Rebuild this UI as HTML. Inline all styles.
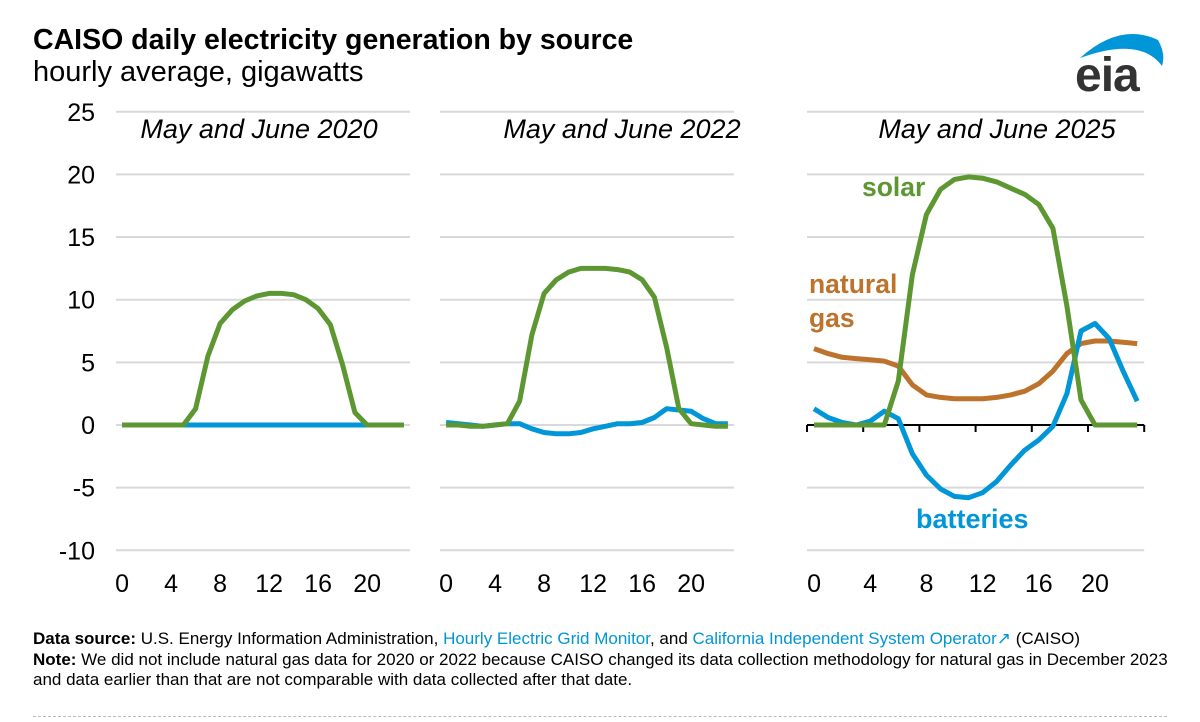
<!DOCTYPE html>
<html><head><meta charset="utf-8"><style>
body{margin:0;width:1200px;height:722px;background:#fff;font-family:"Liberation Sans",sans-serif;overflow:hidden;position:relative}
.t{position:absolute;left:33px;top:24px;font-size:28.5px;font-weight:bold;color:#000;white-space:nowrap}
.s{position:absolute;left:33px;top:56px;font-size:29px;color:#000;white-space:nowrap}
.f{position:absolute;left:33px;top:629px;font-size:17px;line-height:20.5px;color:#000;white-space:nowrap}
.f a{color:#0096d6;text-decoration:none}
.dash{position:absolute;left:33px;right:33px;top:716px;border-top:1px dashed #bbb}
</style></head><body>
<div class="t">CAISO daily electricity generation by source</div>
<div class="s">hourly average, gigawatts</div>
<svg id="c" width="1200" height="722" style="position:absolute;left:0;top:0" font-family="Liberation Sans, sans-serif"></svg>
<div class="f"><b>Data source:</b> U.S. Energy Information Administration, <a>Hourly Electric Grid Monitor</a>, and <a>California Independent System Operator&#x2197;</a> (CAISO)<br><b>Note:</b> We did not include natural gas data for 2020 or 2022 because CAISO changed its data collection methodology for natural gas in December 2023<br>and data earlier than that are not comparable with data collected after that date.</div>
<div class="dash"></div>
<script>
const svg=document.getElementById('c');let h='';
const Y=v=>425-v*12.53;
const panels=[
 {x0:116,w:12.25,title:'May and June 2020',tx:259,
  s:[0,0,0,0,0,0,1.3,5.5,8.1,9.2,9.9,10.3,10.5,10.5,10.4,10.0,9.3,8.0,4.8,1.0,0,0,0,0],
  b:new Array(24).fill(0)},
 {x0:440,w:12.25,title:'May and June 2022',tx:622,
  s:[0,0,-0.1,-0.1,0,0.1,1.9,7.2,10.5,11.6,12.2,12.5,12.5,12.5,12.4,12.2,11.6,10.2,6.2,1.3,0.1,0,-0.1,-0.1],
  b:[0.2,0.1,0,-0.1,0,0.1,0.1,-0.3,-0.6,-0.7,-0.7,-0.6,-0.3,-0.1,0.1,0.1,0.2,0.6,1.3,1.2,1.1,0.5,0.1,0.1]},
 {x0:807,w:14.05,title:'May and June 2025',tx:997,axis:1,
  s:[0,0,0,0,0,0,3.5,12,16.8,18.8,19.6,19.8,19.7,19.4,18.9,18.4,17.6,15.7,9.5,2,0,0,0,0],
  g:[6.1,5.7,5.4,5.3,5.2,5.1,4.7,3.2,2.4,2.2,2.1,2.1,2.1,2.2,2.4,2.7,3.3,4.3,5.7,6.5,6.7,6.7,6.6,6.5],
  b:[1.3,0.6,0.2,0,0.3,1.1,0.5,-2.3,-4.0,-5.1,-5.7,-5.8,-5.4,-4.5,-3.2,-2.0,-1.2,-0.1,2.5,7.5,8.1,6.9,4.3,1.9]}];
for(let v=-10;v<=25;v+=5)h+=`<text x="95" y="${Y(v)+9}" font-size="25" text-anchor="end">${v}</text>`;
panels.forEach(p=>{
 const x1=p.x0+24*p.w;
 for(let v=-10;v<=25;v+=5){if(v==0&&p.axis)continue;h+=`<line x1="${p.x0}" x2="${x1}" y1="${Y(v)}" y2="${Y(v)}" stroke="#d9d9d9" stroke-width="2"/>`;}
 if(p.axis){h+=`<line x1="${p.x0}" x2="${x1}" y1="425" y2="425" stroke="#000" stroke-width="2"/>`;
  for(let i=0;i<=6;i++)h+=`<line x1="${p.x0+i*4*p.w}" x2="${p.x0+i*4*p.w}" y1="425" y2="432" stroke="#000" stroke-width="2"/>`;}
 for(let k=0;k<=20;k+=4)h+=`<text x="${p.x0+(k+0.5)*p.w}" y="592" font-size="25" text-anchor="middle">${k}</text>`;
 h+=`<text x="${p.tx}" y="138" font-size="27" font-style="italic" text-anchor="middle">${p.title}</text>`;
 const pl=(d,c)=>{h+=`<polyline fill="none" stroke="${c}" stroke-width="5" stroke-linejoin="round" points="${d.map((v,i)=>(p.x0+(i+0.5)*p.w).toFixed(1)+','+Y(v).toFixed(1)).join(' ')}"/>`};
 if(p.g)pl(p.g,'#bd732c');
 pl(p.b,'#0096d7');pl(p.s,'#5d9732');
});
h+=`<text x="862" y="196" font-size="26.5" font-weight="bold" fill="#5d9732">solar</text>`;
h+=`<text x="809" y="293" font-size="26.5" font-weight="bold" fill="#bd732c">natural</text>`;
h+=`<text x="809" y="327" font-size="26.5" font-weight="bold" fill="#bd732c">gas</text>`;
h+=`<text x="916" y="528" font-size="27" font-weight="bold" fill="#0096d7">batteries</text>`;
h+=`<path d="M1080 58 Q1120 22 1158 40 Q1166 54 1162 66 Q1140 36 1080 58Z" fill="#0096d7"/>`;
h+=`<text x="1075" y="91" font-size="48" font-weight="bold" fill="#333" letter-spacing="-1">eia</text>`;
svg.innerHTML=h;
</script>
</body></html>
